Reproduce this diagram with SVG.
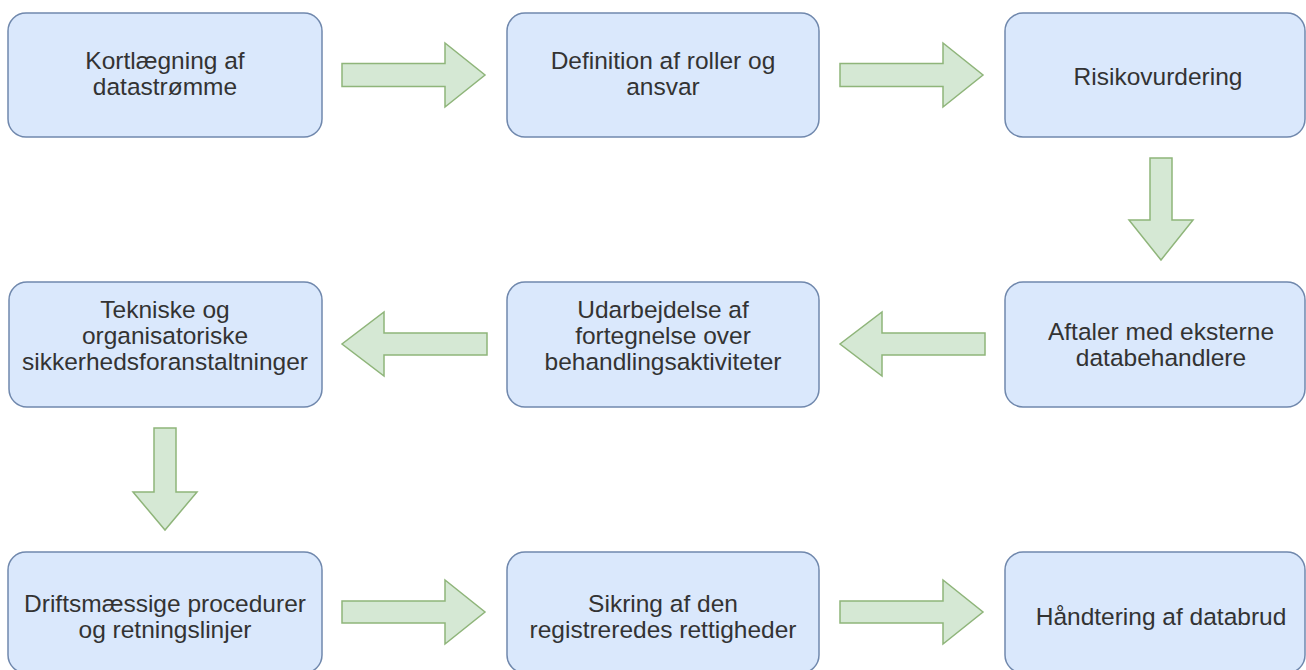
<svg xmlns="http://www.w3.org/2000/svg" width="1306" height="670" viewBox="0 0 1306 670">
<style>
.box{fill:#dae8fc;stroke:#7088ad;stroke-width:1.5}
.arr{fill:#d5e8d4;stroke:#8fb57a;stroke-width:1.5;stroke-linejoin:miter}
text{font-family:"Liberation Sans",Arial,sans-serif;font-size:24.5px;fill:#333333;text-anchor:middle}
</style>
<rect width="1306" height="670" fill="#ffffff"/>
<g id="connectors">
<polygon class="arr" points="342,63.5 445,63.5 445,43 485,75 445,107 445,86.5 342,86.5"/>
<polygon class="arr" points="840,63.5 943,63.5 943,43 983,75 943,107 943,86.5 840,86.5"/>
<polygon class="arr" points="1150,158 1172,158 1172,220 1193,220 1161,260 1129,220 1150,220"/>
<polygon class="arr" points="985,333 882,333 882,312 840,344 882,376 882,355 985,355"/>
<polygon class="arr" points="487,333 384,333 384,312 342,344 384,376 384,355 487,355"/>
<polygon class="arr" points="154,428 176,428 176,492 197,492 165,530 133,492 154,492"/>
<polygon class="arr" points="342,601 445,601 445,580 485,612 445,644 445,623 342,623"/>
<polygon class="arr" points="840,601 943,601 943,580 983,612 943,644 943,623 840,623"/>
</g>
<g id="n1"><rect class="box" x="8" y="13" width="314" height="124" rx="18"/><text x="165" y="69">Kortlægning af</text><text x="165" y="95">datastrømme</text></g>
<g id="n2"><rect class="box" x="507" y="13" width="312" height="124" rx="18"/><text x="663" y="69">Definition af roller og</text><text x="663" y="95">ansvar</text></g>
<g id="n3"><rect class="box" x="1005" y="13" width="300" height="124" rx="18"/><text x="1158" y="85">Risikovurdering</text></g>
<g id="n4"><rect class="box" x="1005" y="282" width="300" height="125" rx="18"/><text x="1161" y="340">Aftaler med eksterne</text><text x="1161" y="366">databehandlere</text></g>
<g id="n5"><rect class="box" x="507" y="282" width="312" height="125" rx="18"/><text x="663" y="318">Udarbejdelse af</text><text x="663" y="344">fortegnelse over</text><text x="663" y="370">behandlingsaktiviteter</text></g>
<g id="n6"><rect class="box" x="9" y="282" width="313" height="125" rx="18"/><text x="165" y="318">Tekniske og</text><text x="165" y="344">organisatoriske</text><text x="165" y="370">sikkerhedsforanstaltninger</text></g>
<g id="n7"><rect class="box" x="8" y="552" width="314" height="121" rx="18"/><text x="165" y="612">Driftsmæssige procedurer</text><text x="165" y="638">og retningslinjer</text></g>
<g id="n8"><rect class="box" x="507" y="552" width="312" height="121" rx="18"/><text x="663" y="612">Sikring af den</text><text x="663" y="638">registreredes rettigheder</text></g>
<g id="n9"><rect class="box" x="1005" y="552" width="300" height="121" rx="18"/><text x="1161" y="625">Håndtering af databrud</text></g>
</svg>
